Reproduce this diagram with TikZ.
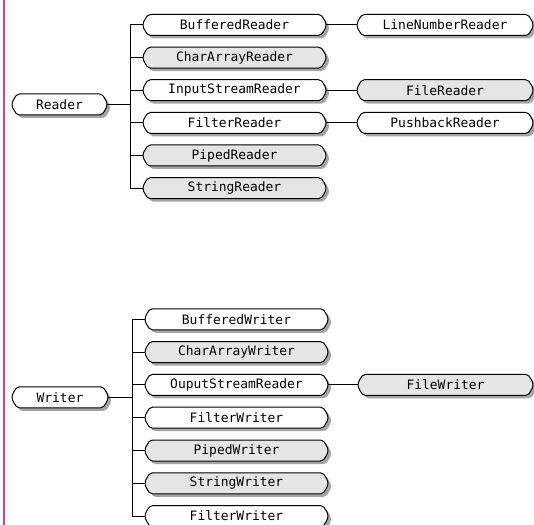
\documentclass[tikz,border=0pt]{standalone}
\usepackage{fontspec}
\newfontfamily\monof{DejaVu Sans Mono}
\definecolor{boxgray}{RGB}{229,229,229}
\definecolor{shadowgray}{RGB}{165,165,165}
\definecolor{pinkline}{RGB}{214,64,160}
\newcommand\ioboxpath[1]{%
  \path[#1] ({\bxa+7.5},\byt) -- ({\bxb-7.5},\byt)
   .. controls ({\bxb-4.5},\byt) and ({\bxb-3.5},{\byt+2.5}) .. ({\bxb-2.5},{\byt+4})
   .. controls ({\bxb+0.8},{\byt+9}) and ({\bxb+0.8},{\byb-9}) .. ({\bxb-2.5},{\byb-4})
   .. controls ({\bxb-3.5},{\byb-2.5}) and ({\bxb-4.5},\byb) .. ({\bxb-7.5},\byb)
   -- ({\bxa+7.5},\byb)
   .. controls ({\bxa+4.5},\byb) and ({\bxa+3.5},{\byb-2.5}) .. ({\bxa+2.5},{\byb-4})
   .. controls ({\bxa-0.8},{\byb-9}) and ({\bxa-0.8},{\byt+9}) .. ({\bxa+2.5},{\byt+4})
   .. controls ({\bxa+3.5},{\byt+2.5}) and ({\bxa+4.5},\byt) .. cycle;}
\newcommand\iobox[6]{%
  \pgfmathsetmacro\bxa{#2}\pgfmathsetmacro\bxb{#3}%
  \pgfmathsetmacro\byt{#4-10.5}\pgfmathsetmacro\byb{#4+10.5}%
  \pgfmathsetmacro\bw{#3-#2}%
  \ioboxpath{fill=shadowgray,shift={(3,3)}}%
  \ioboxpath{fill=#5,draw=black,line width=1bp}%
  \node[boxtext,minimum width=\bw bp] (#1) at ({(#2+#3)/2},#4) {#6};%
}
\begin{document}
\begin{tikzpicture}[x=1bp,y=-1bp,
  boxtext/.style={inner sep=0pt,minimum height=21bp,font=\monof\fontsize{13}{15}\selectfont},
  conn/.style={draw=black,line width=1bp}]
\useasboundingbox (0,0) rectangle (534,525);
\clip (0,0) rectangle (534,525);
\fill[white] (0,0) rectangle (534,525);
\fill[pinkline] (3,0) rectangle (5,525);
% Reader tree
\iobox{reader}{12}{107}{104.5}{white}{Reader}
\iobox{bufr}{143}{326}{25}{white}{BufferedReader}
\iobox{char}{143}{326}{57.6}{boxgray}{CharArrayReader}
\iobox{isr}{143}{326}{90.2}{white}{InputStreamReader}
\iobox{filr}{143}{326}{122.9}{white}{FilterReader}
\iobox{pipr}{143}{326}{155.5}{boxgray}{PipedReader}
\iobox{strr}{143}{326}{188.2}{boxgray}{StringReader}
\iobox{lnr}{357}{533}{25}{white}{LineNumberReader}
\iobox{fr}{357}{533}{90.2}{boxgray}{FileReader}
\iobox{pbr}{357}{533}{122.9}{white}{PushbackReader}
\coordinate (rt) at (130,104.5);
\draw[conn] (reader.east) -- (reader.east -| rt);
\draw[conn] (bufr.west -| rt) -- (strr.west -| rt);
\foreach \n in {bufr,char,isr,filr,pipr,strr}{\draw[conn] (\n.west) -- (\n.west -| rt);}
\draw[conn] (bufr.east) -- (lnr.west);
\draw[conn] (isr.east) -- (fr.west);
\draw[conn] (filr.east) -- (pbr.west);
% Writer tree
\iobox{writer}{12}{108}{397.3}{white}{Writer}
\iobox{bufw}{145}{328}{319.3}{white}{BufferedWriter}
\iobox{charw}{145}{328}{352.1}{boxgray}{CharArrayWriter}
\iobox{osw}{145}{328}{384.9}{white}{OuputStreamReader}
\iobox{filw}{145}{328}{417.7}{white}{FilterWriter}
\iobox{pipw}{145}{328}{450.5}{boxgray}{PipedWriter}
\iobox{strw}{145}{328}{483.3}{boxgray}{StringWriter}
\iobox{filw2}{145}{328}{516.1}{white}{FilterWriter}
\iobox{fw}{358}{533}{384.9}{boxgray}{FileWriter}
\coordinate (wt) at (132,397.3);
\draw[conn] (writer.east) -- (writer.east -| wt);
\draw[conn] (bufw.west -| wt) -- (filw2.west -| wt);
\foreach \n in {bufw,charw,osw,filw,pipw,strw,filw2}{\draw[conn] (\n.west) -- (\n.west -| wt);}
\draw[conn] (osw.east) -- (fw.west);
\end{tikzpicture}
\end{document}
